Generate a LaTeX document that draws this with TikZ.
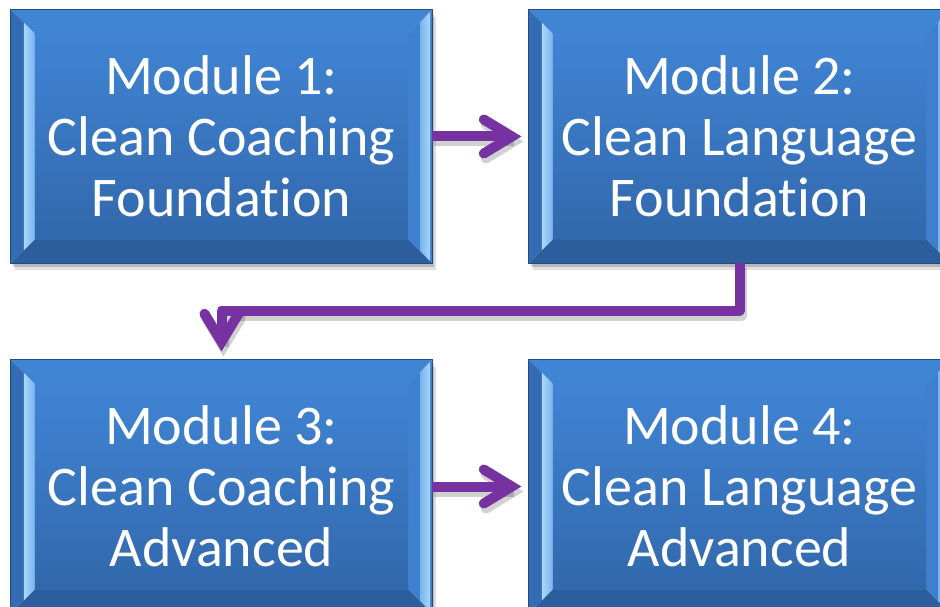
\documentclass[tikz,border=0pt]{standalone}
\usepackage{fontspec}
\setmainfont{Carlito}[Ligatures={NoCommon,NoRare}]
\usetikzlibrary{calc,backgrounds}
\definecolor{facetop}{RGB}{64,132,212}
\definecolor{facebot}{RGB}{50,104,172}
\definecolor{bevtop}{RGB}{64,132,212}
\definecolor{bevbot}{RGB}{44,94,158}
\definecolor{bevdark}{RGB}{52,108,180}
\definecolor{bevlight}{RGB}{120,180,238}
\definecolor{bevlighter}{RGB}{170,215,250}
\definecolor{bevmid}{RGB}{62,128,205}
\definecolor{edgecol}{RGB}{36,76,128}
\definecolor{arrowcol}{RGB}{118,50,160}
\tikzset{
  boxnode/.style={minimum width=421pt, minimum height=253pt, inner sep=0pt,
    align=center, text=white, font=\fontsize{56}{61}\selectfont},
  conn/.style={draw=arrowcol, line width=10pt},
  connshadow/.style={draw=black, opacity=0.18, line width=10pt},
  headline/.style={draw=arrowcol, line width=10pt, line cap=round, line join=miter},
  headshadow/.style={draw=black, opacity=0.18, line width=10pt, line cap=round, line join=miter},
}
\newcommand{\bevbox}[4]{%
  \node[boxnode] (#1) at (#2,#3) {#4};
  \begin{pgfonlayer}{background}
    \fill[black,opacity=0.12] ($(#1.north west)+(4,7)$) rectangle ($(#1.south east)+(4,7)$);
    \fill[black,opacity=0.18] ($(#1.north west)+(2,4)$) rectangle ($(#1.south east)+(2,4)$);
    \fill[bevtop] (#1.north west) -- (#1.north east) -- ($(#1.north east)+(-24,24)$) -- ($(#1.north west)+(24,24)$) -- cycle;
    \fill[bevbot] (#1.south west) -- (#1.south east) -- ($(#1.south east)+(-24,-24)$) -- ($(#1.south west)+(24,-24)$) -- cycle;
    \fill[bevdark] (#1.north west) -- ($(#1.north west)+(13,13)$) -- ($(#1.south west)+(13,-13)$) -- (#1.south west) -- cycle;
    \shade[left color=bevlighter, right color=bevlight] ($(#1.north west)+(13,13)$) -- ($(#1.north west)+(24,24)$) -- ($(#1.south west)+(24,-24)$) -- ($(#1.south west)+(13,-13)$) -- cycle;
    \fill[bevmid] (#1.north east) -- ($(#1.north east)+(-24,24)$) -- ($(#1.south east)+(-24,-24)$) -- (#1.south east) -- cycle;
    \shade[left color=bevlight, right color=bevlighter] ($(#1.north east)+(-12,12)$) -- ($(#1.north east)+(-2,2)$) -- ($(#1.south east)+(-2,-2)$) -- ($(#1.south east)+(-12,-12)$) -- cycle;
    \shade[top color=facetop, bottom color=facebot] ($(#1.north west)+(24,24)$) rectangle ($(#1.south east)+(-24,-24)$);
    \draw[edgecol, line width=1pt] (#1.north west) rectangle (#1.south east);
  \end{pgfonlayer}%
}
\begin{document}
\begin{tikzpicture}[x=1pt,y=-1pt]
\useasboundingbox (0,0) rectangle (940,607);
\begin{scope}
\clip (0,0) rectangle (940,607);
\bevbox{m1}{221.5}{136.5}{Module 1:\\Clean Coaching\\Foundation}
\bevbox{m2}{739.5}{136.5}{Module 2:\\Clean Language\\Foundation}
\bevbox{m3}{221.5}{486.5}{Module 3:\\Clean Coaching\\Advanced}
\bevbox{m4}{739.5}{486.5}{Module 4:\\Clean Language\\Advanced}

% arrow 1 -> 2
\coordinate (v12) at ($(m2.west)+(-17,0)$);
\draw[connshadow] ($(m1.east)+(2,5)$) -- ($(v12)+(2,5)$);
\draw[headshadow] ($(v12)+(-28,-17)+(2,5)$) -- ($(v12)+(2,5)$) -- ($(v12)+(-28,17)+(2,5)$);
\draw[conn] (m1.east) -- (v12);
\draw[headline] ($(v12)+(-28,-17)$) -- (v12) -- ($(v12)+(-28,17)$);

% arrow 3 -> 4
\coordinate (v34) at ($(m4.west)+(-17,0)$);
\draw[connshadow] ($(m3.east)+(2,5)$) -- ($(v34)+(2,5)$);
\draw[headshadow] ($(v34)+(-28,-17)+(2,5)$) -- ($(v34)+(2,5)$) -- ($(v34)+(-28,17)+(2,5)$);
\draw[conn] (m3.east) -- (v34);
\draw[headline] ($(v34)+(-28,-17)$) -- (v34) -- ($(v34)+(-28,17)$);

% elbow arrow 2 -> 3
\coordinate (elb) at ($(m3.north)+(0,-49)$);
\coordinate (v23) at ($(m3.north)+(0,-18)$);
\draw[connshadow, line join=round] ($(m2.south)+(2,5)$) -- ($(m2.south |- elb)+(2,5)$) -- ($(elb)+(2,5)$) -- ($(v23)+(2,5)$);
\draw[headshadow] ($(v23)+(-17,-28)+(2,5)$) -- ($(v23)+(2,5)$) -- ($(v23)+(17,-28)+(2,5)$);
\draw[conn, line join=round] (m2.south) -- (m2.south |- elb) -- (elb) -- (v23);
\draw[headline] ($(v23)+(-17,-28)$) -- (v23) -- ($(v23)+(17,-28)$);
\end{scope}
\end{tikzpicture}
\end{document}
